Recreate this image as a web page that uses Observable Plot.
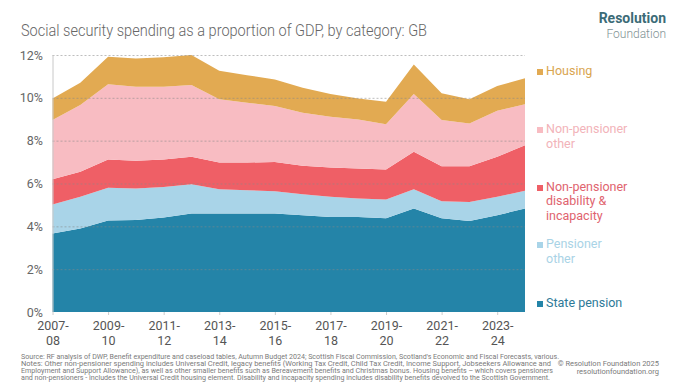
<!DOCTYPE html>
<html><head><meta charset="utf-8">
<script src="https://cdn.jsdelivr.net/npm/d3@7"></script>
<script src="https://cdn.jsdelivr.net/npm/@observablehq/plot@0.6"></script>
<style>
body{margin:0;background:#fff;}
#wrap{position:relative;width:680px;height:383px;overflow:hidden;font-family:Roboto,sans-serif;background:#fff;}
#deco{position:absolute;left:0;top:0;}
#chart{position:absolute;left:0;top:40px;}
.lg{position:absolute;left:537px;font-family:Roboto,sans-serif;font-size:12.5px;line-height:14.5px;}
.lg .sq{position:absolute;left:0;top:5px;width:6px;height:6px;}
.lg .tx{position:absolute;left:9px;top:0;white-space:nowrap;}
</style></head><body>
<div id="wrap">
<svg id="deco" width="680" height="383" font-family="Roboto, sans-serif">
  <text x="21" y="36" font-size="16.5" font-weight="300" fill="#666" textLength="406" lengthAdjust="spacingAndGlyphs">Social security spending as a proportion of GDP, by category: GB</text>
  <text x="666" y="22.5" text-anchor="end" font-size="14" font-weight="700" fill="#3c6c77">Resolution</text>
  <text x="666" y="37.5" text-anchor="end" font-size="12" font-weight="300" fill="#7f9294">Foundation</text>
  <g font-size="7" fill="#7a7a7a">
    <text x="21" y="359" textLength="538" lengthAdjust="spacingAndGlyphs">Source: RF analysis of DWP, Benefit expenditure and caseload tables, Autumn Budget 2024; Scottish Fiscal Commission, Scotland's Economic and Fiscal Forecasts, various.</text>
    <text x="21" y="366" textLength="530" lengthAdjust="spacingAndGlyphs">Notes: Other non-pensioner spending includes Universal Credit, legacy benefits (Working Tax Credit, Child Tax Credit, Income Support, Jobseekers Allowance and</text>
    <text x="21" y="373" textLength="532" lengthAdjust="spacingAndGlyphs">Employment and Support Allowance), as well as other smaller benefits such as Bereavement benefits and Christmas bonus. Housing benefits – which covers pensioners</text>
    <text x="21" y="380" textLength="529" lengthAdjust="spacingAndGlyphs">and non-pensioners - includes the Universal Credit housing element. Disability and incapacity spending includes disability benefits devolved to the Scottish Government.</text>
    <text x="659" y="366" text-anchor="end" font-size="7.5">© Resolution Foundation 2025</text>
    <text x="659" y="373.5" text-anchor="end" font-size="7.5">resolutionfoundation.org</text>
  </g>
</svg>
<div id="chart"></div>
<div id="legend"></div>
</div>
<script>
// Financial years (start year), 2007-08 to 2024-25
const years = [2007,2008,2009,2010,2011,2012,2013,2014,2015,2016,2017,2018,2019,2020,2021,2022,2023,2024];

const seriesNames = ["State pension","Pensioner other","Non-pensioner disability & incapacity","Non-pensioner other","Housing"];
const legendLabels = ["State pension","Pensioner\nother","Non-pensioner\ndisability &\nincapacity","Non-pensioner\nother","Housing"];
const seriesColors = ["#2484a8","#a9d4e8","#ef5f66","#f8bcc2","#e2aa52"];
const legendTextColors = ["#2d7a98","#a9d3e6","#e0636e","#f2b3b9","#d9a54f"];

// % of GDP, per category (not cumulative)
const statePension   = [3.66,3.90,4.27,4.29,4.41,4.60,4.60,4.60,4.60,4.52,4.44,4.43,4.38,4.83,4.38,4.25,4.52,4.83];
const pensionerOther = [1.36,1.48,1.53,1.48,1.43,1.37,1.13,1.09,1.04,0.98,0.94,0.87,0.87,0.90,0.79,0.89,0.86,0.83];
const nonPenDisab    = [1.18,1.17,1.32,1.29,1.28,1.28,1.25,1.29,1.36,1.33,1.37,1.40,1.40,1.75,1.64,1.67,1.87,2.13];
const nonPenOther    = [2.76,3.11,3.51,3.46,3.40,3.35,2.95,2.79,2.62,2.47,2.37,2.29,2.12,2.70,2.15,1.99,2.15,1.91];
const housing        = [1.01,1.05,1.29,1.32,1.37,1.40,1.34,1.29,1.24,1.17,1.06,0.98,1.05,1.38,1.25,1.13,1.15,1.21];

const tickYears = [2007,2009,2011,2013,2015,2017,2019,2021,2023];
const tickLabels = ["2007-\n08","2009-\n10","2011-\n12","2013-\n14","2015-\n16","2017-\n18","2019-\n20","2021-\n22","2023-\n24"];
const yTicks = [0,2,4,6,8,10,12];

const seriesValues = [statePension, pensionerOther, nonPenDisab, nonPenOther, housing];
const data = [];
seriesNames.forEach((s, k) => years.forEach((yr, i) => data.push({year: yr, value: seriesValues[k][i], series: s})));
const labelMap = new Map(tickYears.map((y, i) => [y, tickLabels[i]]));

const plot = Plot.plot({
  width: 680, height: 310,
  marginLeft: 52.5, marginRight: 155, marginTop: 15, marginBottom: 38,
  style: {fontFamily: "Roboto, sans-serif", fontSize: "12.5px", color: "#666", background: "transparent"},
  x: {domain: [2007, 2024], label: null},
  y: {domain: [0, 12], label: null},
  color: {domain: seriesNames, range: seriesColors},
  marks: [
    Plot.areaY(data, {x: "year", y: "value", fill: "series", order: seriesNames}),
    Plot.ruleY(yTicks.filter(d => d > 0), {stroke: "#888", strokeOpacity: 0.55, strokeDasharray: "2,2"}),
    Plot.ruleX([2007], {y1: 0, y2: 12, stroke: "#c8c8c8"}),
    Plot.axisY({ticks: yTicks, tickSize: 0, tickPadding: 10, tickFormat: d => d + "%", fill: "#666", label: null}),
    Plot.axisX({ticks: tickYears, tickFormat: d => labelMap.get(d), tickSize: 3, tickPadding: 4, stroke: "#ccc", fill: "#555", lineHeight: 1.2, label: null})
  ]
});
document.getElementById("chart").appendChild(plot);

// legend (top-to-bottom reading order: Housing first)
const legendTops = [296, 237, 179.5, 122, 63.5];
const lg = document.getElementById("legend");
seriesNames.forEach((s, k) => {
  const d = document.createElement("div");
  d.className = "lg";
  d.style.top = legendTops[k] + "px";
  const sq = document.createElement("div");
  sq.className = "sq"; sq.style.background = seriesColors[k];
  const tx = document.createElement("div");
  tx.className = "tx"; tx.style.color = legendTextColors[k];
  tx.innerHTML = legendLabels[k].split("\n").join("<br>");
  d.appendChild(sq); d.appendChild(tx);
  lg.appendChild(d);
});
</script>
</body></html>
